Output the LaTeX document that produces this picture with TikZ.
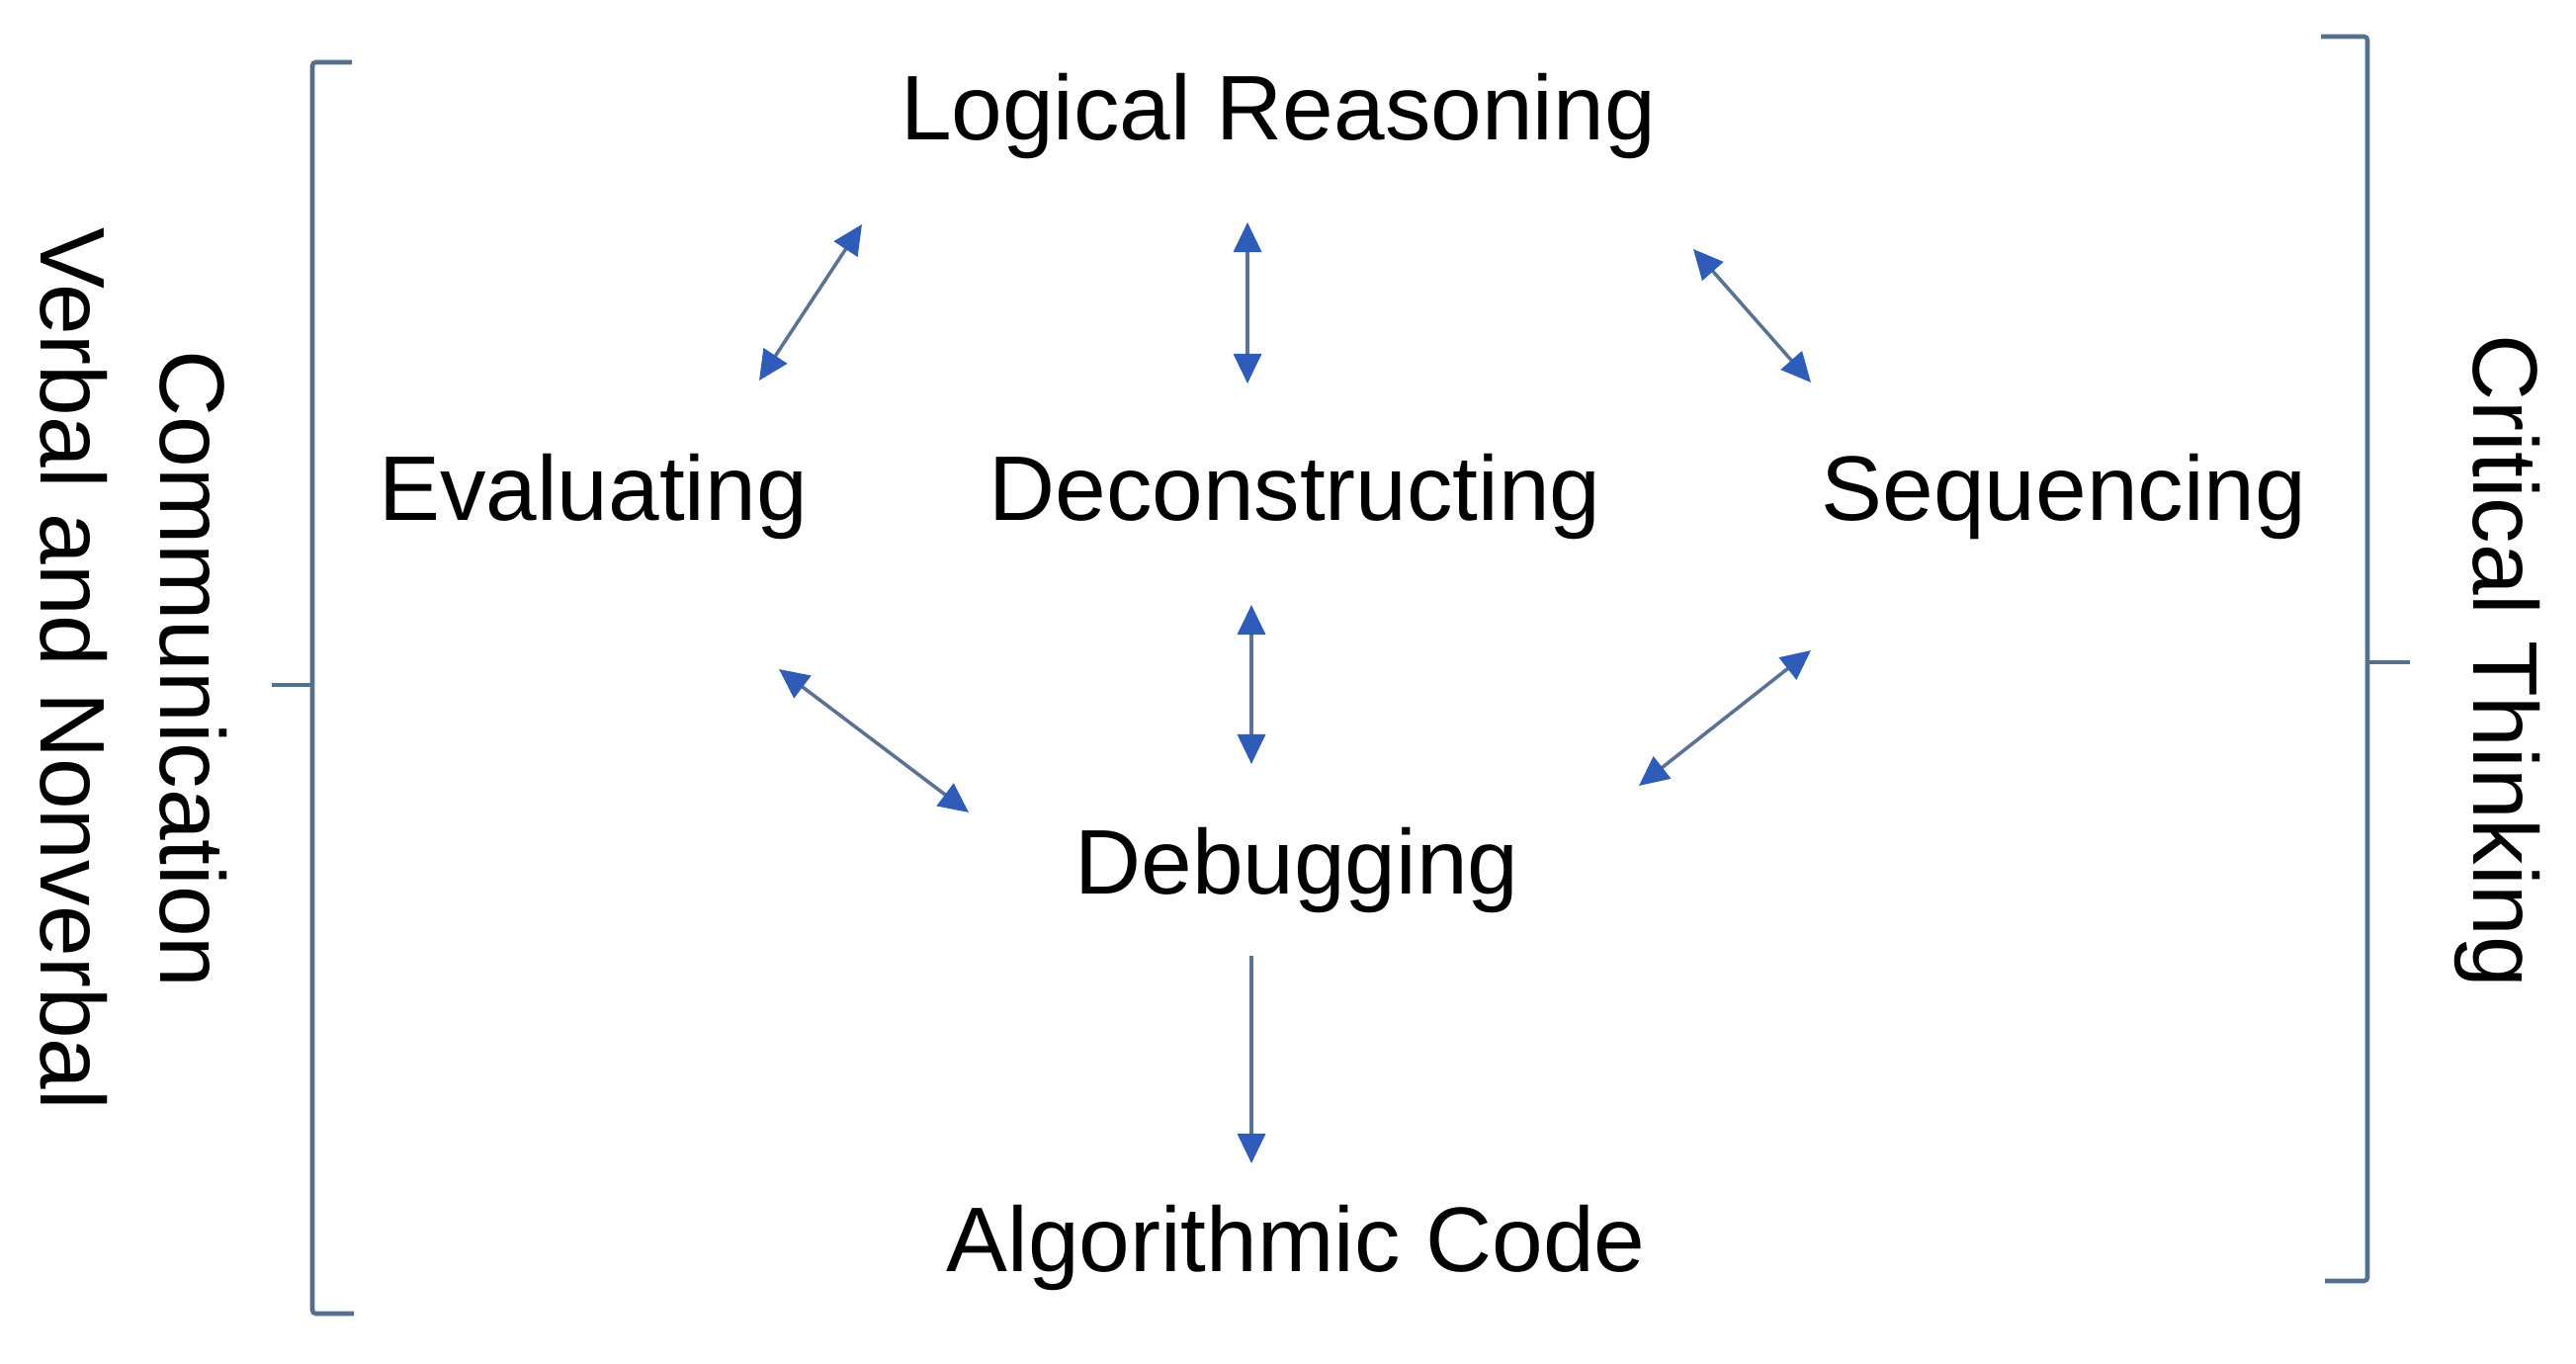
\documentclass[tikz,border=0pt]{standalone}
\usepackage{fontspec}
\setmainfont{Liberation Sans}
\usetikzlibrary{arrows.meta}
\definecolor{brk}{HTML}{55708C}
\definecolor{arln}{HTML}{5A7294}
\definecolor{arhd}{HTML}{2E5CB8}
\tikzset{
  lbl/.style={inner sep=0pt, anchor=base, font=\fontsize{26.4pt}{34.4pt}\selectfont, text=black},
  vlbl/.style={inner sep=0pt, align=center, rotate=-90, font=\fontsize{26.4pt}{34.4pt}\selectfont, text=black},
  brace/.style={draw=brk, line width=1.3pt, rounded corners=1pt},
  tip/.tip={Triangle[length=0.3cm,width=0.28cm,fill=arhd,color=arhd]},
  dbl/.style={draw=arln, line width=1pt, {tip}-{tip}},
  sgl/.style={draw=arln, line width=1pt, -{tip}}
}
\begin{document}
\begin{tikzpicture}[x=0.01cm,y=-0.01cm]
\useasboundingbox (0,0) rectangle (2606,1380);
% labels
\node[lbl] (logic) at (1293,142) {Logical Reasoning};
\node[lbl] (eval) at (600,527) {Evaluating};
\node[lbl] (decon) at (1310,527) {Deconstructing};
\node[lbl] (seq) at (2088,527) {Sequencing};
\node[lbl] (debug) at (1312,905) {Debugging};
\node[lbl] (algo) at (1311,1287) {Algorithmic Code};
\node[vlbl] (comm) at (135,677) {Communication\\Verbal and Nonverbal};
\node[vlbl] (crit) at (2526,669) {Critical Thinking};
% braces
\coordinate (lb1) at (356,63);
\coordinate (lb2) at (316,63);
\coordinate (lb3) at (316,1329);
\coordinate (lb4) at (358,1329);
\coordinate (lbm) at (316,693);
\coordinate (lbt) at (275,693);
\draw[brace] (lb1) -- (lb2) -- (lb3) -- (lb4);
\draw[brace] (lbm) -- (lbt);
\coordinate (rb1) at (2348,37);
\coordinate (rb2) at (2395,37);
\coordinate (rb3) at (2395,1296);
\coordinate (rb4) at (2352,1296);
\coordinate (rbm) at (2395,670);
\coordinate (rbt) at (2438,670);
\draw[brace] (rb1) -- (rb2) -- (rb3) -- (rb4);
\draw[brace] (rbm) -- (rbt);
% arrow ends
\coordinate (le1) at (872,227);
\coordinate (le2) at (768,385);
\coordinate (ld1) at (1262,225);
\coordinate (ld2) at (1262,388);
\coordinate (ls1) at (1713,252);
\coordinate (ls2) at (1832,387);
\coordinate (dd1) at (1266,612);
\coordinate (dd2) at (1266,773);
\coordinate (sd1) at (1832,658);
\coordinate (sd2) at (1658,795);
\coordinate (ed1) at (788,677);
\coordinate (ed2) at (980,822);
\coordinate (da1) at (1266,967);
\coordinate (da2) at (1266,1177);
\draw[dbl] (le1) -- (le2);
\draw[dbl] (ld1) -- (ld2);
\draw[dbl] (ls1) -- (ls2);
\draw[dbl] (dd1) -- (dd2);
\draw[dbl] (sd1) -- (sd2);
\draw[dbl] (ed1) -- (ed2);
\draw[sgl] (da1) -- (da2);
\end{tikzpicture}
\end{document}
